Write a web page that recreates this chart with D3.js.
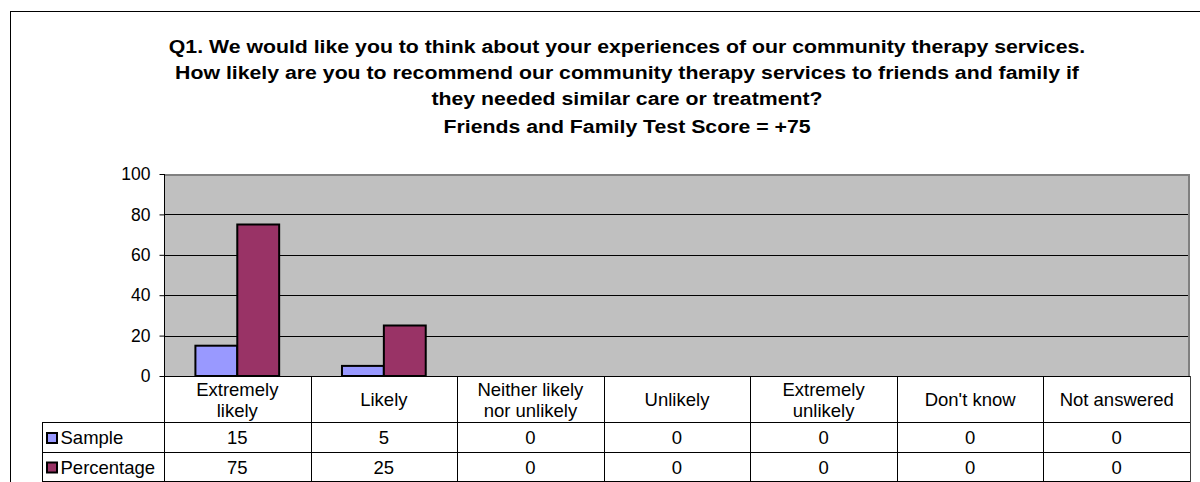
<!DOCTYPE html>
<html><head><meta charset="utf-8">
<script src="https://cdn.jsdelivr.net/npm/d3@7"></script>
<style>
html,body{margin:0;padding:0;background:#fff;overflow:hidden;}
svg{display:block;font-family:"Liberation Sans",Arial,sans-serif;}
</style></head>
<body>
<svg id="c" width="1200" height="482"></svg>
<script>
const titleLines = [
  "Q1. We would like you to think about your experiences of our community therapy services.",
  "How likely are you to recommend our community therapy services to friends and family if",
  "they needed similar care or treatment?",
  "Friends and Family Test Score = +75"
];
const categories = [["Extremely","likely"],["Likely"],["Neither likely","nor unlikely"],["Unlikely"],["Extremely","unlikely"],["Don't know"],["Not answered"]];
const seriesNames = ["Sample","Percentage"];
const sampleValues = [15,5,0,0,0,0,0];
const percentageValues = [75,25,0,0,0,0,0];
const yTicks = [0,20,40,60,80,100];
const seriesColors = ["#9999FF","#993366"];

const svg = d3.select("#c");
const L = 164, R = 1190, T = 174, B = 376;
const tableLeft = 42, headerBottom = 422;
const rowLines = [422, 452, 481];
const tfs = 18.5;

// outer frame
svg.append("rect").attr("x",10.5).attr("y",11.5).attr("width",1250).attr("height",520)
  .attr("fill","#fff").attr("stroke","#000").attr("stroke-width",1);

// title (horizontally stretched to match reference rendering)
const titleBase = [52.5,78.5,104.5,132.5];
const tg = svg.append("g");
const tTexts = titleLines.map((t,i)=> tg.append("text").attr("x",0).attr("y",0).attr("text-anchor","middle")
    .attr("font-size",18.5).attr("font-weight","bold").attr("fill","#000").text(t));
const w0 = tTexts[0].node().getComputedTextLength();
const sx = 917 / w0;
tTexts.forEach((t,i)=> t.attr("transform",`translate(627,${titleBase[i]}) scale(${sx},1)`));

const catKeys = categories.map(c=>c.join(" "));
const x0 = d3.scaleBand().domain(catKeys).range([L,R]).paddingInner(0).paddingOuter(0);
const y = d3.scaleLinear().domain([0,100]).range([B,T]);
const bw = x0.bandwidth();
const gap = bw*1.5/3.5/2;
const x1 = d3.scaleBand().domain(seriesNames).range([gap,bw-gap]).padding(0);

// plot area
svg.append("rect").attr("x",L).attr("y",T).attr("width",R-L).attr("height",B-T).attr("fill","#C0C0C0");
// gridlines
svg.append("g").selectAll("line").data(yTicks.filter(v=>v>0&&v<100)).join("line")
  .attr("x1",L).attr("x2",R).attr("y1",d=>Math.round(y(d))+0.5).attr("y2",d=>Math.round(y(d))+0.5)
  .attr("stroke","#000").attr("stroke-width",1);
// plot border top/right gray
svg.append("path").attr("d",`M${L},${T+1}H${R-1}V${B}`).attr("fill","none").attr("stroke","#808080").attr("stroke-width",2);

// bars
const series = [sampleValues, percentageValues];
const g = svg.append("g");
catKeys.forEach((k,i)=>{
  series.forEach((vals,s)=>{
    const v = vals[i];
    if(v<=0) return;
    g.append("rect").attr("x",x0(k)+x1(seriesNames[s])).attr("y",y(v))
      .attr("width",x1.bandwidth()).attr("height",y(0)-y(v))
      .attr("fill",seriesColors[s]).attr("stroke","#000").attr("stroke-width",2);
  });
});

// y axis
const yAxis = d3.axisLeft(y).tickValues(yTicks).tickSize(5).tickPadding(9);
const ya = svg.append("g").attr("transform",`translate(${L+0.5},0)`).call(yAxis);
ya.select(".domain").remove();
ya.selectAll("line").attr("stroke","#000");
ya.selectAll("text").attr("font-size",17.5).attr("fill","#000").attr("font-family","Liberation Sans, Arial, sans-serif");
svg.append("line").attr("x1",L+0.5).attr("x2",L+0.5).attr("y1",T).attr("y2",B).attr("stroke","#000");
svg.append("line").attr("x1",L).attr("x2",R).attr("y1",B+0.5).attr("y2",B+0.5).attr("stroke","#000");

// data table
const tbl = svg.append("g");
rowLines.forEach(yy=>{
  tbl.append("line").attr("x1",tableLeft).attr("x2",R).attr("y1",yy+0.5).attr("y2",yy+0.5).attr("stroke","#000");
});
const tableBottom = rowLines[rowLines.length-1] + 1;
const vx = catKeys.map(k=>x0(k)).concat([R]);
vx.forEach((xx,i)=>{
  tbl.append("line").attr("x1",Math.round(xx)+0.5).attr("x2",Math.round(xx)+0.5)
    .attr("y1",B).attr("y2",tableBottom).attr("stroke",i===vx.length-1?"#404040":"#000");
});
tbl.append("line").attr("x1",tableLeft+0.5).attr("x2",tableLeft+0.5).attr("y1",headerBottom).attr("y2",tableBottom).attr("stroke","#000");

// category labels
categories.forEach((c,i)=>{
  const cx = x0(catKeys[i]) + bw/2;
  const base = c.length===2 ? [396,417] : [406];
  c.forEach((ln,j)=>{
    tbl.append("text").attr("x",cx).attr("y",base[j]).attr("text-anchor","middle")
      .attr("font-size",tfs).attr("fill","#000").text(ln);
  });
});
// legend keys + values
seriesNames.forEach((n,s)=>{
  const rowTop = rowLines[s];
  const baseY = (rowLines[s] + rowLines[s+1]) / 2 + 7;
  tbl.append("rect").attr("x",47).attr("y",baseY-11).attr("width",10).attr("height",10)
    .attr("fill",seriesColors[s]).attr("stroke","#000").attr("stroke-width",2);
  tbl.append("text").attr("x",60.5).attr("y",baseY).attr("font-size",tfs).attr("fill","#000").text(n);
  series[s].forEach((v,i)=>{
    tbl.append("text").attr("x",x0(catKeys[i])+bw/2).attr("y",baseY).attr("text-anchor","middle")
      .attr("font-size",tfs).attr("fill","#000").text(v);
  });
});
</script>
</body></html>
